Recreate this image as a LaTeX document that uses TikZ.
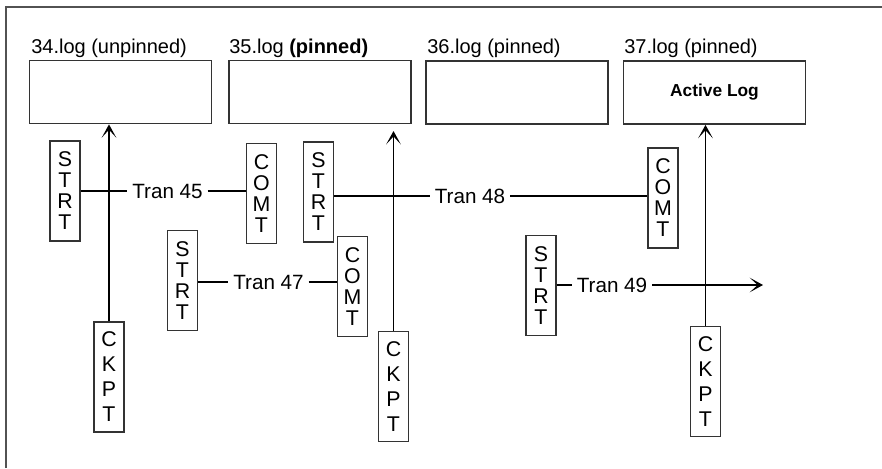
\documentclass[tikz,border=0pt]{standalone}
\usepackage{fontspec}
\setmainfont{Liberation Sans}
\usetikzlibrary{arrows.meta}
\colorlet{framegray}{black!68}
\colorlet{boxgray}{black!80}

\tikzset{
  logbox/.style={draw=boxgray, line width=1.1pt, minimum width=136.5pt, minimum height=47.5pt, inner sep=0pt},
  loglabel/.style={anchor=base west, inner sep=0pt, font=\fontsize{15}{18}\selectfont},
  tagbox/.style={draw=boxgray, line width=1.1pt, align=center, minimum width=22.5pt, minimum height=75pt, inner sep=0pt, font=\fontsize{16}{15.75}\selectfont},
  ckptbox/.style={tagbox, minimum height=82.5pt, font=\fontsize{16}{18.75}\selectfont},
  tranlabel/.style={inner sep=3.5pt, font=\fontsize{15.5}{18}\selectfont}
}

\begin{document}
\begin{tikzpicture}[x=0.75pt, y=-0.75pt, >={Stealth[length=10pt, width=11pt, inset=6pt]}]
    \useasboundingbox (0,0) rectangle (882,468);

    % --- Frame (only top and left edges show) ---
    \draw[framegray, line width=1.5pt] (5.5,468) -- (5.5,6.5) -- (882,6.5);

    % --- Log files ---
    \node[loglabel] (title34) at (31,53) {34.log (unpinned)};
    \node[loglabel] (title35) at (229,53) {35.log \textbf{(pinned)}};
    \node[loglabel] (title36) at (427,53) {36.log (pinned)};
    \node[loglabel] (title37) at (624,53) {37.log (pinned)};

    \node[logbox] (log34) at (120.5,92) {};
    \node[logbox] (log35) at (320,92) {};
    \node[logbox] (log36) at (517,92.5) {};
    \node[logbox] (log37) at (714.5,92.5) {\fontsize{13}{15}\selectfont\bfseries Active Log};

    % --- Transaction start / commit records ---
    \node[tagbox] (strt45) at (65,191) {S\\T\\R\\T};
    \node[tagbox] (comt45) at (261.5,193.5) {C\\O\\M\\T};
    \node[tagbox] (strt48) at (318.5,192) {S\\T\\R\\T};
    \node[tagbox] (comt48) at (663,198) {C\\O\\M\\T};
    \node[tagbox] (strt47) at (182.5,280.5) {S\\T\\R\\T};
    \node[tagbox] (comt47) at (352.5,286.5) {C\\O\\M\\T};
    \node[tagbox] (strt49) at (541,285.5) {S\\T\\R\\T};

    % --- Checkpoint records ---
    \node[ckptbox] (ckptA) at (109,377) {C\\K\\P\\T};
    \node[ckptbox] (ckptB) at (393.5,386.5) {C\\K\\P\\T};
    \node[ckptbox] (ckptC) at (705.5,381.5) {C\\K\\P\\T};

    % --- Transactions ---
    \node[tranlabel] (tran45) at (167.5,191) {Tran 45};
    \draw[line width=0.8pt] (strt45.east) -- (tran45.west);
    \draw[line width=0.8pt] (tran45.east) -- (tran45.east -| comt45.west);

    \node[tranlabel] (tran48) at (470,196) {Tran 48};
    \draw[line width=0.8pt] (tran48.west -| strt48.east) -- (tran48.west);
    \draw[line width=0.8pt] (tran48.east) -- (tran48.east -| comt48.west);

    \node[tranlabel] (tran47) at (268.5,282) {Tran 47};
    \draw[line width=0.8pt] (tran47.west -| strt47.east) -- (tran47.west);
    \draw[line width=0.8pt] (tran47.east) -- (tran47.east -| comt47.west);

    \node[tranlabel] (tran49) at (612,285) {Tran 49};
    \coordinate (end49) at (763,285);
    \draw[line width=0.8pt] (tran49.west -| strt49.east) -- (tran49.west);
    \draw[->, line width=0.8pt] (tran49.east) -- (end49);

    % --- Checkpoint arrows up to the logs ---
    \draw[->, line width=0.8pt] (ckptA.north) -- (ckptA.north |- log34.south);
    \draw[->, line width=0.8pt, shorten >=5pt] (ckptB.north) -- (ckptB.north |- log35.south);
    \draw[->, line width=0.8pt] (ckptC.north) -- (ckptC.north |- log37.south);
\end{tikzpicture}
\end{document}
